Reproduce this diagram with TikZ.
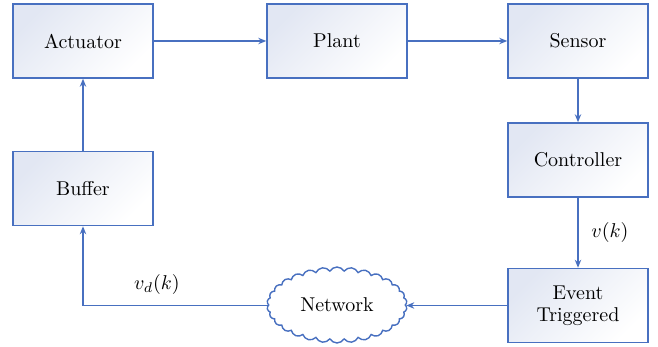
\documentclass[tikz,border=0pt]{standalone}
\usetikzlibrary{shapes.symbols,arrows.meta}
\definecolor{edge}{RGB}{72,112,192}
\definecolor{tint}{RGB}{226,231,243}
\begin{document}
\begin{tikzpicture}[x=0.5pt,y=-0.5pt,
  font=\fontsize{10}{12}\selectfont,
  block/.style={draw=edge, line width=0.75pt, minimum width=70pt, minimum height=37pt,
    inner sep=0pt, top color=tint, bottom color=white, shading angle=45, align=center},
  link/.style={draw=edge, line width=0.7pt, -{Stealth[length=4pt,width=3.2pt]}},
  lbl/.style={font=\fontsize{10}{12}\selectfont}]
\useasboundingbox (0,0) rectangle (658,347);
\node[block] (act) at (83,41) {Actuator};
\node[block] (plant) at (337,41) {Plant};
\node[block] (sens) at (578,41) {Sensor};
\node[block] (ctrl) at (578,160) {Controller};
\node[block] (evt) at (578,305.5) {Event\\[-1pt]Triggered};
\node[block] (buf) at (83,188.5) {Buffer};
\node[cloud, cloud puffs=30, cloud puff arc=120, aspect=1.85, draw=edge, line width=0.7pt,
  fill=white, minimum width=70pt, minimum height=38pt, inner sep=0pt] (net) at (337,305) {Network};
\draw[link] (act) -- (plant);
\draw[link] (plant) -- (sens);
\draw[link] (sens) -- (ctrl);
\draw[link] (ctrl) -- node[lbl, right=3pt] {$v(k)$} (evt);
\draw[link] (evt) -- (net.east |- evt.west);
\draw[link] (net.west |- evt.west) -| node[lbl, pos=0.3, above=2pt] {$v_d(k)$} (buf);
\draw[link] (buf) -- (act);
\end{tikzpicture}
\end{document}
